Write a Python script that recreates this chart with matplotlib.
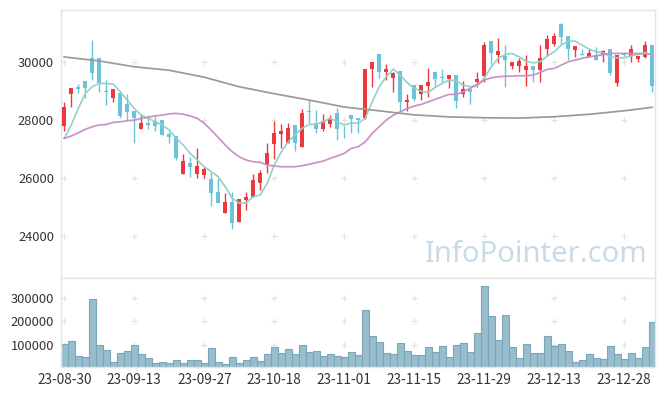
import numpy as np
import matplotlib.pyplot as plt

plt.rcParams['font.family'] = ['Noto Sans CJK KR', 'DejaVu Sans']

# trading day labels every 10 sessions
tick_pos = [0, 10, 20, 30, 40, 50, 60, 70, 80]
tick_labels = ["23-08-30", "23-09-13", "23-09-27", "23-10-18", "23-11-01",
               "23-11-15", "23-11-29", "23-12-13", "23-12-28"]

opens = [27800, 28890, 29150, 29350, 30130, 30130, 29000, 28770, 28950, 28550,
         28310, 27700, 27890, 27980, 28000, 27520, 27450, 26130, 26510, 26130,
         26100, 25970, 25510, 24780, 25160, 24470, 25240, 25360, 25840, 26470,
         27160, 27530, 27200, 27830, 27080, 28310, 27890, 27700, 27850, 28230,
         27630, 28160, 28080, 28060, 29750, 30280, 29670, 29440, 29690, 28630,
         29210, 28890, 29180, 29670, 29480, 29410, 29550, 28890, 29060, 29320,
         29530, 30720, 30240, 30220, 29860, 29870, 29720, 29860, 29720, 30450,
         30640, 31330, 30900, 30410, 30280, 30180, 30260, 30260, 30470, 29290,
         30330, 30220, 30100, 30180, 30590]
highs = [28630, 29100, 29230, 29350, 30780, 30130, 29400, 29060, 29000, 28890,
         28310, 28200, 28160, 28140, 28000, 27600, 27450, 26820, 26740, 27020,
         26390, 26220, 26010, 25470, 25510, 25270, 25510, 26130, 26280, 27200,
         27970, 27850, 27890, 27830, 28380, 28710, 28350, 28200, 28170, 28400,
         27790, 28160, 28080, 29760, 30000, 30280, 29920, 29650, 29690, 28890,
         29210, 29210, 29800, 29670, 29760, 29560, 29550, 29350, 29060, 29670,
         30700, 30720, 30820, 30590, 29990, 30150, 30240, 29860, 30590, 30930,
         31020, 31340, 30900, 30560, 30470, 30450, 30530, 30420, 30470, 30250,
         30360, 30590, 30220, 30720, 30590]
lows = [27620, 28440, 28920, 28750, 29400, 28980, 28520, 28610, 28060, 28000,
        27200, 27700, 27700, 27630, 27490, 27200, 26620, 26130, 26050, 26010,
        26010, 25050, 25130, 24780, 24230, 24470, 24900, 25360, 25590, 26160,
        26660, 27020, 27200, 26940, 27080, 27890, 27540, 27620, 27770, 27310,
        27370, 27540, 27540, 28050, 29130, 29440, 29400, 28980, 28310, 28310,
        28660, 28690, 28800, 29130, 29320, 29090, 28400, 28780, 28540, 29150,
        29320, 29920, 29960, 29150, 29750, 29650, 29180, 29320, 29320, 30220,
        30550, 30640, 30090, 30180, 30250, 30180, 30090, 29990, 29550, 29180,
        30200, 29990, 30010, 30130, 28980]
closes = [28440, 29090, 29080, 29110, 29630, 29290, 28980, 29060, 28150, 28290,
          28080, 27890, 27840, 27800, 27490, 27420, 26700, 26590, 26390, 26410,
          26310, 25470, 25130, 25160, 24440, 25270, 25360, 25930, 26160, 26850,
          27540, 27620, 27710, 27200, 28230, 28290, 27700, 27970, 28080, 27700,
          27610, 28050, 28000, 29760, 29990, 29670, 29760, 29640, 28630, 28690,
          28720, 29210, 29320, 29410, 29460, 29550, 28670, 29060, 28980, 29410,
          30590, 30320, 30380, 30070, 29990, 30030, 29860, 29720, 30130, 30790,
          30900, 30870, 30450, 30550, 30260, 30330, 30090, 30400, 29630, 30240,
          30250, 30470, 30210, 30590, 29170]

ma5 = [27370, 27830, 28400, 28920, 29150, 29265, 29265, 29240, 28980, 28690,
       28400, 28170, 28060, 27940, 27830, 27655, 27370, 27140, 26850, 26620,
       26390, 26220, 26045, 25700, 25300, 25130, 25150, 25355, 25415, 25820,
       26450, 26900, 27250, 27500, 27720, 27850, 27850, 27940, 28060, 27940,
       27830, 27900, 27890, 28060, 28630, 29150, 29490, 29760, 29550, 29290,
       29090, 29000, 28955, 29130, 29265, 29380, 29355, 29205, 29150, 29170,
       29440, 29840, 30130, 30265, 30300, 30180, 30030, 29975, 30010, 30215,
       30355, 30585, 30725, 30725, 30585, 30450, 30355, 30320, 30180, 30150,
       30150, 30215, 30265, 30335, 30240]
ma20 = [27370, 27450, 27560, 27680, 27770, 27830, 27850, 27920, 27940, 27975,
        28000, 28060, 28095, 28150, 28170, 28215, 28230, 28200, 28140, 28060,
        27890, 27655, 27400, 27140, 26905, 26735, 26620, 26560, 26540, 26450,
        26415, 26390, 26390, 26390, 26425, 26475, 26530, 26585, 26680, 26760,
        26850, 27025, 27080, 27250, 27540, 27770, 28000, 28170, 28285, 28400,
        28485, 28540, 28630, 28715, 28805, 28885, 28885, 28975, 29095, 29240,
        29380, 29460, 29495, 29515, 29515, 29530, 29530, 29550, 29645, 29750,
        29785, 29895, 30010, 30070, 30130, 30185, 30215, 30265, 30300, 30300,
        30300, 30300, 30300, 30285, 30265]
ma120_pos = [0, 5, 10, 15, 20, 25, 30, 35, 40, 45, 50, 55, 60, 65, 70, 75, 80, 84]
ma120 = [30180, 30040, 29840, 29720, 29480, 29150, 28910, 28690, 28450, 28320,
         28180, 28110, 28080, 28070, 28115, 28200, 28320, 28440]

volume = [104000, 117000, 53500, 48000, 293000, 98600, 77500, 28000, 66000, 73000,
          98600, 60500, 43700, 22500, 26800, 22500, 35200, 22500, 35200, 35200,
          22500, 86000, 26800, 18300, 48000, 22500, 35200, 48000, 31000, 60500,
          90000, 64800, 81700, 60500, 98600, 69000, 73000, 52000, 60500, 52000,
          47900, 69000, 56300, 246500, 136600, 111300, 64800, 60600, 107000, 73200,
          56300, 56300, 90100, 69000, 94400, 47900, 98600, 107000, 69000, 149300,
          349300, 221100, 119700, 225400, 90100, 43700, 102800, 64800, 64800, 136600,
          94400, 102800, 73200, 26800, 35200, 60600, 43700, 39400, 94400, 60600,
          39400, 64800, 43700, 90100, 195800]

UP = '#eb3a3e'
DOWN = '#6cc3d9'
FRAME = '#e4e4e4'


def style_axis(ax):
    for s in ax.spines.values():
        s.set_color(FRAME)
        s.set_linewidth(1)
    ax.tick_params(length=0, labelsize=9.3, colors='#333333')


def ve_nen(ax):
    x = np.arange(len(opens))
    o = np.array(opens)
    c = np.array(closes)
    colors = [UP if cc >= oo else DOWN for oo, cc in zip(o, c)]
    ax.vlines(x, lows, highs, colors=colors, linewidth=1.0, zorder=3)
    body = np.maximum(np.abs(c - o), 30)
    ax.bar(x, body, bottom=np.minimum(o, c), width=0.62, color=colors,
           linewidth=0, zorder=4)
    ax.plot(x, ma5, color='#92d0c6', lw=1.25, alpha=0.95, zorder=5)
    ax.plot(x, ma20, color='#c98cc4', lw=1.25, alpha=0.95, zorder=5)
    ax.plot(ma120_pos, ma120, color='#9a9a9a', lw=1.25, zorder=5)


def main():
    fig = plt.figure(figsize=(6.65, 3.96), dpi=100)
    ax1 = fig.add_axes([0.0917, 0.298, 0.8932, 0.6768])
    ax2 = fig.add_axes([0.0917, 0.0732, 0.8932, 0.2248], sharex=ax1)

    price_ticks = [24000, 26000, 28000, 30000]
    vol_ticks = [100000, 200000, 300000]

    gx, gy = np.meshgrid(tick_pos, price_ticks)
    ax1.plot(gx.ravel(), gy.ravel(), '+', color='#e2e2e2', ms=4.5, mew=0.8, zorder=0)
    gx, gy = np.meshgrid(tick_pos, vol_ticks)
    ax2.plot(gx.ravel(), gy.ravel(), '+', color='#e2e2e2', ms=4.5, mew=0.8, zorder=0)

    ax1.text(0.988, 0.086, "InfoPointer.com", transform=ax1.transAxes,
             ha='right', va='center', fontsize=21, color='#c9dbe6',
             family=['Noto Sans', 'DejaVu Sans'], zorder=1)

    ve_nen(ax1)
    ax1.set_xlim(-0.47, 84.4)
    ax1.set_ylim(22550, 31800)
    ax1.set_yticks(price_ticks)
    ax1.set_yticklabels([str(v) for v in price_ticks])
    ax1.tick_params(axis='x', labelbottom=False)
    style_axis(ax1)
    ax1.tick_params(axis='y', pad=5)

    ax2.bar(np.arange(len(volume)), volume, width=1.0, color='#98bece',
            edgecolor='#7aa6ba', linewidth=0.8, zorder=2)
    ax2.set_ylim(7000, 383000)
    ax2.set_yticks(vol_ticks)
    ax2.set_yticklabels([str(v) for v in vol_ticks])
    ax2.set_xticks(tick_pos)
    ax2.set_xticklabels(tick_labels)
    style_axis(ax2)
    ax2.tick_params(axis='y', pad=5)
    ax2.tick_params(axis='x', pad=4, labelsize=9.8)

    fig.savefig("out.png", dpi=100)


if __name__ == "__main__":
    main()
